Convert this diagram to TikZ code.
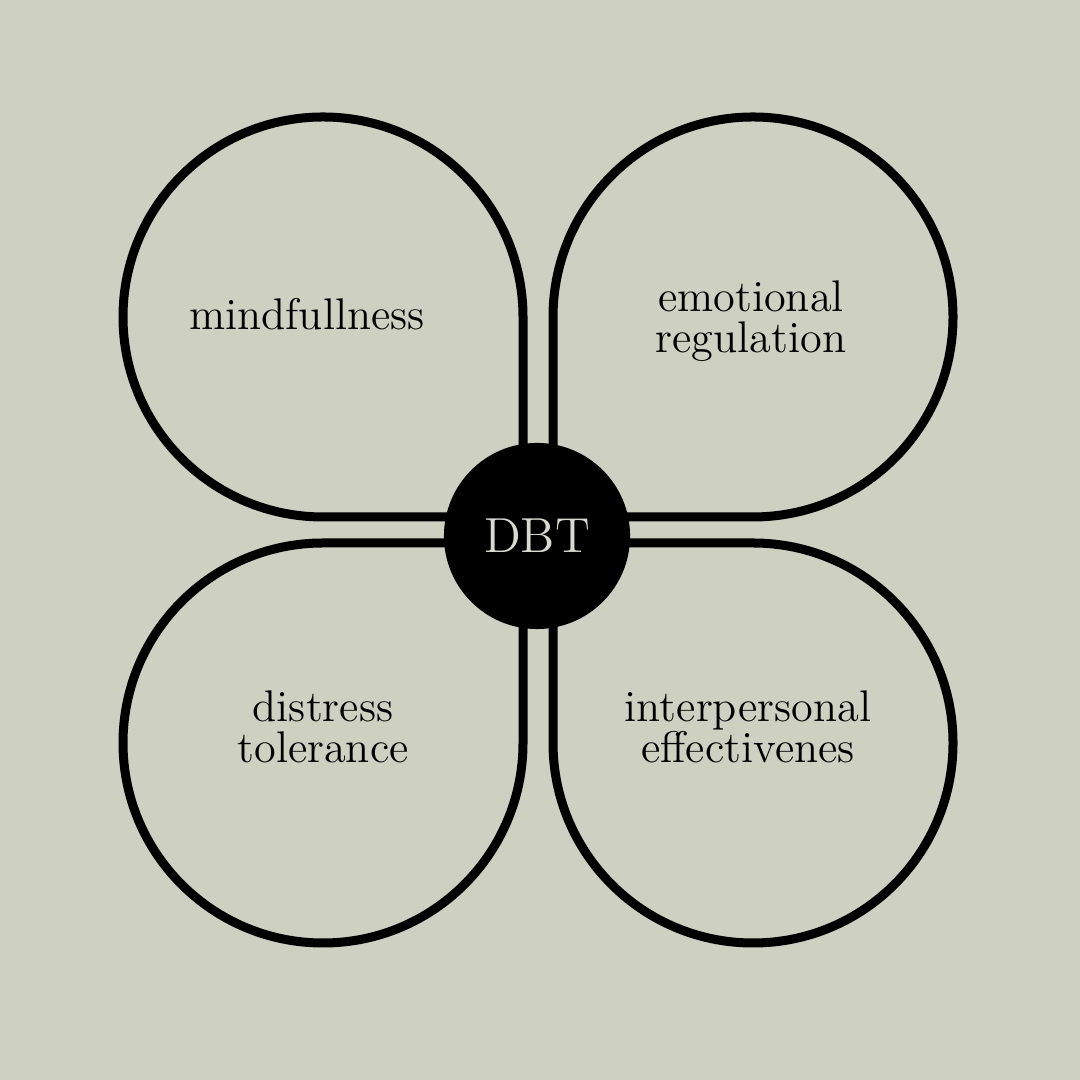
\documentclass[tikz,border=0pt]{standalone}
\usetikzlibrary{positioning}
\definecolor{sage}{HTML}{CED0C1}
\definecolor{paper}{HTML}{D9DACF}

\begin{document}
\begin{tikzpicture}[x=0.01cm, y=0.01cm,
    every node/.style={font=\fontsize{12.6}{11.6}\selectfont, align=center, text=black},
    petal/.style={line width=0.09cm, line join=round}]
		\fill[sage] (0,0) rectangle (1080,1080);
		\draw[petal] (523,563) -- (323,563) arc[start angle=270, end angle=0, radius=200] -- cycle;
		\draw[petal] (553,563) -- (753,563) arc[start angle=-90, end angle=180, radius=200] -- cycle;
		\draw[petal] (523,537) -- (323,537) arc[start angle=90, end angle=360, radius=200] -- cycle;
		\draw[petal] (553,537) -- (753,537) arc[start angle=90, end angle=-180, radius=200] -- cycle;
		\node[circle, fill=black, minimum size=1.86cm, text=paper, font=\fontsize{14}{16}\selectfont] (dbt) at (537,544) {DBT};
		\node[anchor=base] (mind) at (307,750) {mindfullness};
		\node (emo) at (751,759) {emotional\\regulation};
		\node (dist) at (323,353) {distress\\tolerance};
		\node (inter) at (748,353) {interpersonal\\effectivenes};
	\end{tikzpicture}
\end{document}
